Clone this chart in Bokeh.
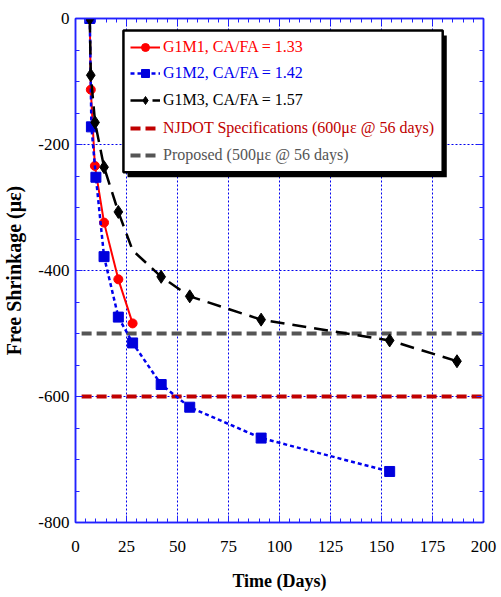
from bokeh.plotting import figure
from bokeh.models import (Range1d, LinearAxis, Legend, LegendItem, BoxAnnotation,
                          SingleIntervalTicker, CustomLabelingPolicy, NumeralTickFormatter)
from bokeh.embed import file_html
from bokeh.resources import INLINE

# ---- data ----
g1m1_days = [7, 7.5, 9.5, 14, 21, 28]
g1m1_strain = [0, -113, -234, -324, -414, -484]

g1m2_days = [7, 7.8, 10, 14, 21, 28, 42, 56, 91, 154]
g1m2_strain = [0, -172, -252, -378, -474, -515, -581, -617, -666, -719]

g1m3_days = [7, 7.5, 9.6, 14, 21, 28, 42, 56, 91, 154, 187]
g1m3_strain = [0, -90, -165, -236, -307, -368, -410, -441, -478, -511, -544]
g1m3_marker_days = [7, 7.5, 9.6, 14, 21, 42, 56, 91, 154, 187]
g1m3_marker_strain = [0, -90, -165, -236, -307, -410, -441, -478, -511, -544]

njdot_days = [3, 200]
njdot_limit = [-600, -600]
proposed_days = [3, 200]
proposed_limit = [-500, -500]

labels = ["G1M1, CA/FA = 1.33", "G1M2, CA/FA = 1.42", "G1M3, CA/FA = 1.57",
          "NJDOT Specifications (600\u03bc\u03b5 @ 56 days)",
          "Proposed (500\u03bc\u03b5 @ 56 days)"]

FONT = "Liberation Serif"
BLUE = "#0000ee"
AXBLUE = "#2222ff"

p = figure(frame_width=408, frame_height=504, output_backend="svg", toolbar_location=None,
           x_range=Range1d(0, 200), y_range=Range1d(-800, 0),
           min_border_left=72, min_border_right=5, min_border_top=18, min_border_bottom=59)
p.background_fill_color = "white"
p.border_fill_color = "white"
p.outline_line_color = AXBLUE
p.outline_line_width = 1.5

# grids
p.xgrid.ticker = SingleIntervalTicker(interval=25)
p.ygrid.ticker = SingleIntervalTicker(interval=200)
for g in (p.xgrid, p.ygrid):
    g.grid_line_color = BLUE
    g.grid_line_dash = "2 2"
    g.grid_line_width = 1

def style_axis(ax):
    ax.axis_line_color = AXBLUE
    ax.axis_line_width = 1.5
    ax.major_tick_line_color = AXBLUE
    ax.minor_tick_line_color = AXBLUE
    ax.major_tick_in = 7
    ax.major_tick_out = 0
    ax.minor_tick_in = 4
    ax.minor_tick_out = 0
    ax.major_label_text_font = FONT
    ax.major_label_text_font_size = "17px"
    ax.major_label_text_color = "black"
    ax.axis_label_text_font = FONT
    ax.axis_label_text_font_style = "bold"
    ax.axis_label_text_font_size = "18px"
    ax.axis_label_text_color = "black"

p.xaxis.ticker = SingleIntervalTicker(interval=25, num_minor_ticks=5)
p.yaxis.ticker = SingleIntervalTicker(interval=200, num_minor_ticks=4)
p.yaxis.formatter = NumeralTickFormatter(format="0")
p.xaxis.formatter = NumeralTickFormatter(format="0")
style_axis(p.xaxis[0])
style_axis(p.yaxis[0])
p.xaxis.axis_label = "Time (Days)"
p.yaxis.axis_label = "Free Shrinkage (\u03bc\u03b5)"
p.yaxis.axis_label_text_font_size = "20px"
p.xaxis.major_label_standoff = 18
p.xaxis.axis_label_standoff = 16
p.yaxis.major_label_standoff = 6
p.yaxis.axis_label_standoff = 10

top = LinearAxis(ticker=SingleIntervalTicker(interval=25, num_minor_ticks=5))
right = LinearAxis(ticker=SingleIntervalTicker(interval=200, num_minor_ticks=4))
for ax in (top, right):
    style_axis(ax)
    ax.major_label_standoff = 0
    ax.major_label_policy = CustomLabelingPolicy(code="return []")
p.add_layout(top, "above")
p.add_layout(right, "right")

# reference lines
r_nj = p.line(njdot_days, njdot_limit, line_color="#c00000", line_width=4, line_dash="10 5")
r_pr = p.line(proposed_days, proposed_limit, line_color="#555555", line_width=4, line_dash="10 5")

# series
l1 = p.line(g1m1_days, g1m1_strain, line_color="#ff0000", line_width=2)
m1 = p.scatter(g1m1_days, g1m1_strain, marker="circle", size=9, fill_color="#ff0000", line_color="#ff0000")
l2 = p.line(g1m2_days, g1m2_strain, line_color=BLUE, line_width=2.5, line_dash="4 3")
m2 = p.scatter(g1m2_days, g1m2_strain, marker="square", size=10, fill_color="#0000dd", line_color="#0000dd")
l3 = p.line(g1m3_days, g1m3_strain, line_color="black", line_width=2.5, line_dash="14 8")
m3 = p.scatter(g1m3_marker_days, g1m3_marker_strain, marker="diamond", size=13, fill_color="black", line_color="black")

# legend frame with shadow (data units)
shadow = BoxAnnotation(left=25.5, right=182, top=-27, bottom=-252, fill_color="black",
                       fill_alpha=1, line_color=None)
box = BoxAnnotation(left=23.5, right=180, top=-19, bottom=-244, fill_color="white",
                    fill_alpha=1, line_color="black", line_width=2.5, line_alpha=1)
p.add_layout(shadow)
p.add_layout(box)

colors = ["#ff0000", "#0000ee", "black", "#c00000", "#555555"]
rends = [[l1, m1], [l2, m2], [l3, m3], [r_nj], [r_pr]]
ys = [465, 439, 412, 384, 357]
for lab, col, rr, yy in zip(labels, colors, rends, ys):
    lg = Legend(items=[LegendItem(label=lab, renderers=rr)], location=(55, yy),
                padding=0, margin=0, spacing=0, border_line_color=None,
                background_fill_alpha=0, glyph_width=30, glyph_height=20,
                label_height=20, label_standoff=3, label_text_font=FONT,
                label_text_font_size="16px", label_text_color=col)
    p.add_layout(lg)

open("out.html", "w").write(file_html(p, INLINE))
